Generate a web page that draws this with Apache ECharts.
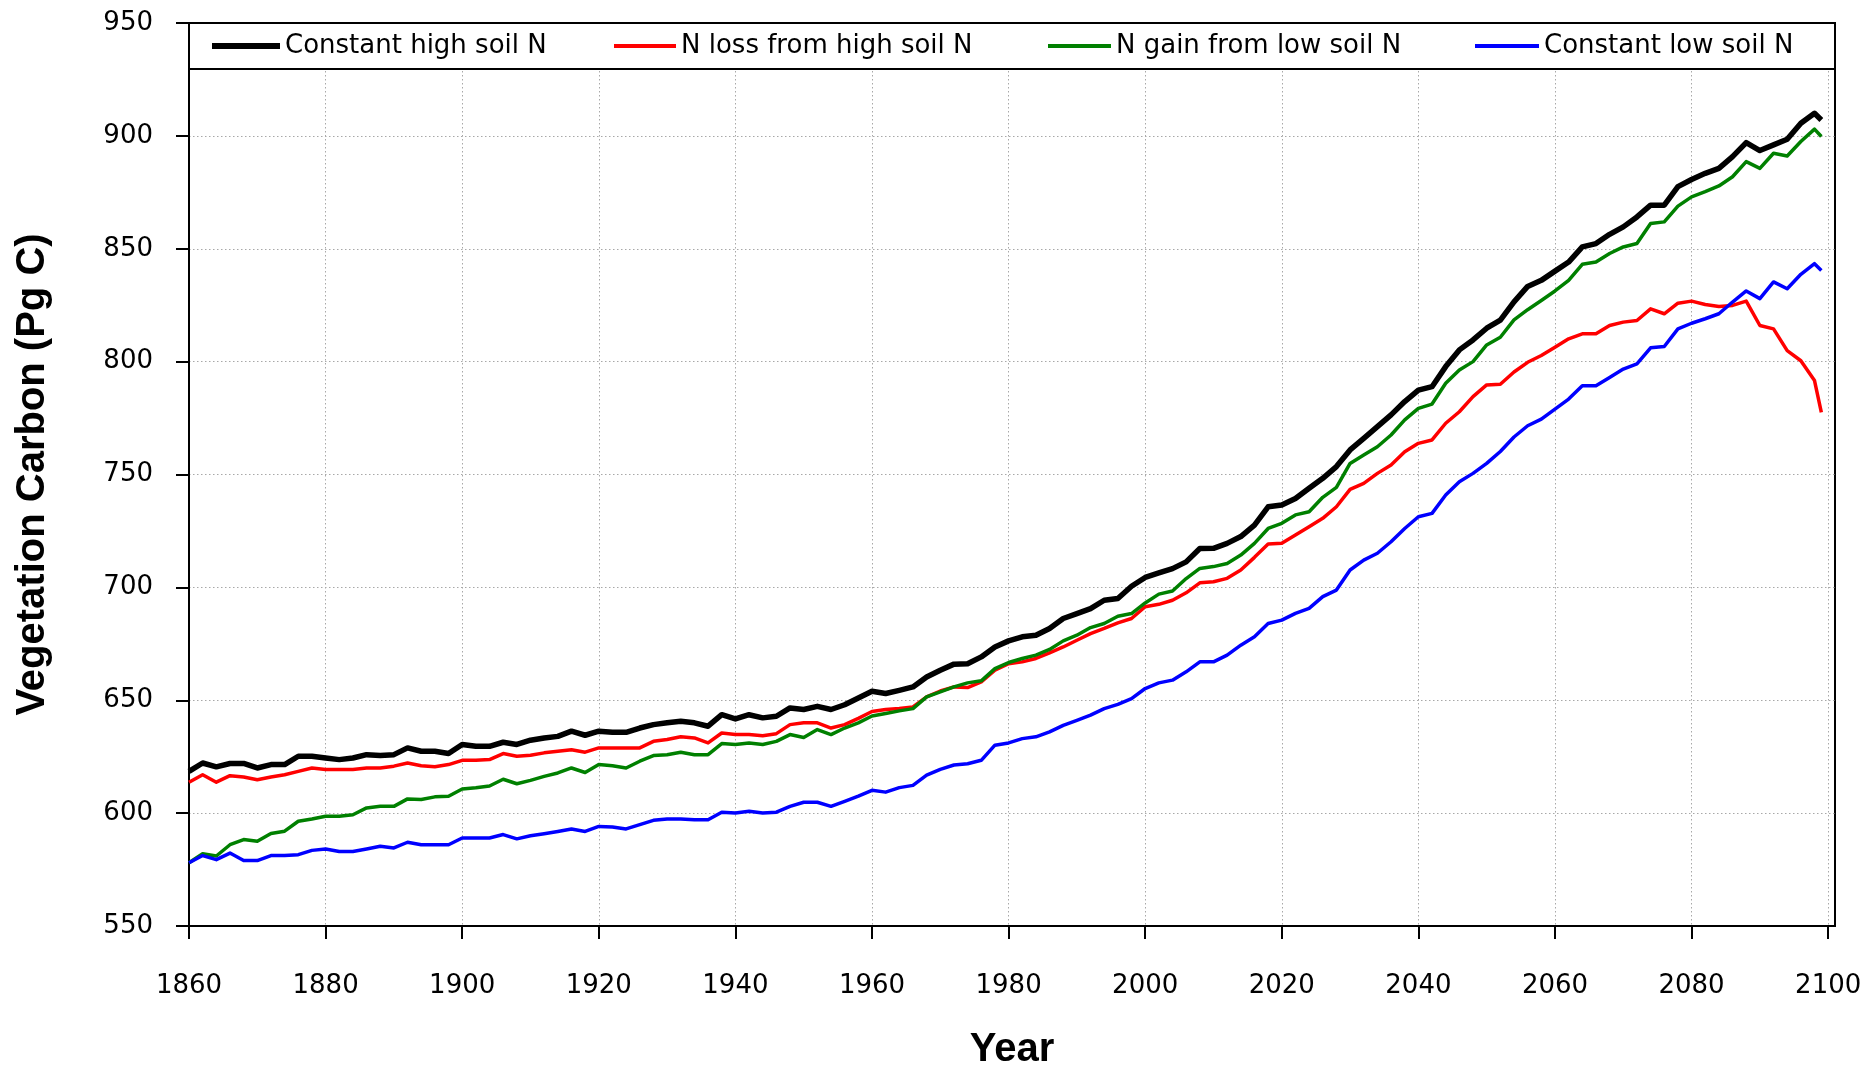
<!DOCTYPE html>
<html>
<head>
<meta charset="utf-8">
<script src="https://cdn.jsdelivr.net/npm/echarts@6/dist/echarts.min.js"></script>
<style>
  html, body { margin: 0; padding: 0; background: #ffffff; }
  #chart { width: 1873px; height: 1069px; }
</style>
</head>
<body>
<div id="chart"></div>
<script>
// Simulation years (two-year steps, last year of the run appended)
const years = [
  1860, 1862, 1864, 1866, 1868, 1870, 1872, 1874, 1876, 1878,
  1880, 1882, 1884, 1886, 1888, 1890, 1892, 1894, 1896, 1898,
  1900, 1902, 1904, 1906, 1908, 1910, 1912, 1914, 1916, 1918,
  1920, 1922, 1924, 1926, 1928, 1930, 1932, 1934, 1936, 1938,
  1940, 1942, 1944, 1946, 1948, 1950, 1952, 1954, 1956, 1958,
  1960, 1962, 1964, 1966, 1968, 1970, 1972, 1974, 1976, 1978,
  1980, 1982, 1984, 1986, 1988, 1990, 1992, 1994, 1996, 1998,
  2000, 2002, 2004, 2006, 2008, 2010, 2012, 2014, 2016, 2018,
  2020, 2022, 2024, 2026, 2028, 2030, 2032, 2034, 2036, 2038,
  2040, 2042, 2044, 2046, 2048, 2050, 2052, 2054, 2056, 2058,
  2060, 2062, 2064, 2066, 2068, 2070, 2072, 2074, 2076, 2078,
  2080, 2082, 2084, 2086, 2088, 2090, 2092, 2094, 2096, 2098,
  2099
];

// Vegetation carbon (Pg C), one array per soil-N scenario
const constantHighN = [
  618.5, 622.2, 620.5, 622.0, 622.0, 620.0, 621.5, 621.5, 625.2, 625.2,
  624.4, 623.7, 624.4, 625.9, 625.5, 625.9, 628.9, 627.4, 627.4, 626.4,
  630.4, 629.6, 629.6, 631.4, 630.4, 632.3, 633.3, 634.0, 636.3, 634.5,
  636.3, 635.8, 635.8, 637.7, 639.2, 640.0, 640.7, 640.0, 638.5, 643.6,
  641.7, 643.6, 642.2, 642.9, 646.6, 645.9, 647.3, 645.9, 648.0, 651.0,
  654.0, 653.0, 654.4, 655.9, 660.3, 663.3, 666.0, 666.2, 669.2, 673.6,
  676.3, 678.1, 678.8, 681.8, 686.2, 688.4, 690.6, 694.3, 695.1, 700.5,
  704.4, 706.4, 708.3, 711.3, 717.2, 717.3, 719.5, 722.5, 727.6, 735.7,
  736.5, 739.4, 743.9, 748.3, 753.5, 760.9, 766.0, 771.2, 776.4, 782.3,
  787.4, 788.9, 797.8, 805.2, 809.6, 814.8, 818.4, 826.5, 833.3, 836.0,
  840.1, 844.1, 850.8, 852.3, 856.4, 859.7, 864.1, 869.3, 869.3, 877.5,
  880.7, 883.4, 885.6, 890.8, 897.0, 893.5, 896.0, 898.5, 905.6, 910.0,
  907.0
];

const lossFromHighN = [
  613.7, 617.0, 613.7, 616.6, 616.0, 614.8, 616.0, 617.0, 618.5, 620.0,
  619.3, 619.3, 619.3, 620.0, 620.0, 620.8, 622.2, 621.0, 620.5, 621.5,
  623.4, 623.4, 623.7, 626.4, 625.2, 625.6, 626.7, 627.4, 628.1, 627.0,
  628.9, 628.9, 628.9, 628.9, 631.8, 632.6, 633.8, 633.3, 631.1, 635.5,
  634.8, 634.8, 634.3, 635.2, 639.2, 640.0, 640.0, 637.7, 639.2, 642.0,
  645.0, 645.9, 646.3, 647.0, 651.5, 654.1, 655.9, 655.6, 658.1, 663.3,
  666.2, 667.0, 668.5, 671.0, 673.6, 676.6, 679.5, 681.8, 684.3, 686.2,
  691.4, 692.5, 694.3, 697.6, 702.0, 702.5, 704.0, 707.7, 713.3, 719.2,
  719.5, 723.2, 726.9, 730.6, 735.7, 743.4, 746.1, 750.5, 754.2, 760.1,
  763.8, 765.3, 772.7, 777.8, 784.5, 789.7, 790.0, 795.4, 799.7, 802.7,
  806.4, 810.1, 812.3, 812.3, 816.0, 817.5, 818.2, 823.4, 821.2, 825.9,
  826.8, 825.3, 824.4, 824.9, 826.8, 816.0, 814.5, 804.9, 800.4, 791.6,
  777.5
];

const gainFromLowN = [
  578.0, 582.0, 581.0, 586.0, 588.3, 587.5, 591.0, 592.0, 596.4, 597.4,
  598.6, 598.6, 599.3, 602.3, 603.0, 603.0, 606.3, 606.0, 607.2, 607.5,
  610.7, 611.2, 612.0, 615.0, 613.0, 614.5, 616.3, 617.8, 620.0, 618.0,
  621.5, 621.0, 620.0, 623.0, 625.5, 625.9, 627.0, 625.9, 625.9, 630.8,
  630.4, 631.1, 630.4, 631.8, 634.8, 633.5, 637.0, 634.8, 637.7, 640.0,
  643.0, 644.1, 645.3, 646.3, 651.5, 653.7, 655.9, 657.7, 658.6, 664.0,
  666.7, 668.5, 670.0, 672.5, 676.3, 678.8, 682.2, 684.0, 687.2, 688.4,
  693.1, 697.0, 698.4, 703.9, 708.4, 709.2, 710.6, 714.3, 719.5, 726.1,
  728.4, 732.1, 733.5, 739.9, 744.3, 754.9, 758.6, 762.3, 767.5, 774.2,
  779.3, 781.2, 790.4, 796.3, 800.0, 807.4, 810.8, 818.5, 823.0, 827.1,
  831.3, 836.0, 843.1, 844.1, 847.9, 850.8, 852.3, 861.2, 861.9, 868.9,
  873.0, 875.3, 877.8, 881.9, 888.6, 885.6, 892.3, 891.1, 897.5, 903.0,
  899.7
];

const constantLowN = [
  578.0, 581.2, 579.4, 582.3, 579.0, 579.0, 581.2, 581.2, 581.6, 583.5,
  584.1, 583.0, 583.0, 584.1, 585.3, 584.6, 587.1, 586.0, 586.0, 586.0,
  589.0, 589.0, 589.0, 590.5, 588.6, 590.0, 590.9, 591.9, 593.0, 591.9,
  594.1, 593.9, 593.0, 594.9, 596.8, 597.4, 597.4, 597.1, 597.1, 600.4,
  600.1, 600.8, 600.1, 600.4, 603.0, 604.8, 604.8, 603.0, 605.2, 607.5,
  610.1, 609.3, 611.3, 612.3, 616.8, 619.4, 621.3, 621.9, 623.4, 630.1,
  631.1, 633.0, 633.8, 636.0, 638.9, 641.1, 643.4, 646.3, 648.2, 650.7,
  655.2, 657.7, 658.9, 662.6, 667.0, 667.0, 670.0, 674.4, 678.1, 684.0,
  685.5, 688.5, 690.7, 695.9, 698.8, 707.7, 712.1, 715.1, 720.2, 726.1,
  731.3, 732.8, 740.9, 746.8, 750.5, 754.9, 760.2, 766.6, 771.6, 774.5,
  779.0, 783.4, 789.3, 789.3, 793.0, 796.7, 799.0, 806.1, 806.7, 814.5,
  817.0, 819.0, 821.2, 826.4, 831.3, 827.9, 835.3, 832.3, 838.7, 843.4,
  840.4
];

const seriesNames = [
  'Constant high soil N',
  'N loss from high soil N',
  'N gain from low soil N',
  'Constant low soil N'
];

const xTickValues = [1860, 1880, 1900, 1920, 1940, 1960, 1980, 2000, 2020, 2040, 2060, 2080, 2100];
const yTickValues = [550, 600, 650, 700, 750, 800, 850, 900, 950];

// ---- layout & styling ----
const W = 1873;
const GRID = { left: 189, right: 38, top: 23, bottom: 143 };
const LEGEND_BOX_H = 46;
const colors = ['#000000', '#ff0000', '#008000', '#0000ff'];
const widths = [5.5, 3.5, 3.5, 3.5];
const legendLeft = [212, 614, 1048, 1475];
const legendIconW = [68, 62, 63, 64];
const legendIconH = [6, 4, 4, 4];
const tickFont = { fontFamily: 'DejaVu Sans', fontSize: 26, color: '#000' };
const titleFont = { fontFamily: 'Liberation Sans', fontWeight: 'bold', fontSize: 40, color: '#000' };
const gridDots = { color: '#a8a8a8', width: 1, type: [1.5, 2.5] };

const valueSets = [constantHighN, lossFromHighN, gainFromLowN, constantLowN];

const chart = echarts.init(document.getElementById('chart'), null, { renderer: 'canvas' });

chart.setOption({
  animation: false,
  backgroundColor: '#ffffff',
  grid: {
    left: GRID.left, right: GRID.right, top: GRID.top, bottom: GRID.bottom,
    show: true, borderColor: '#000', borderWidth: 2,
    outerBoundsMode: 'none'
  },
  xAxis: {
    type: 'value',
    min: 1860, max: 2101, interval: 20,
    name: 'Year', nameLocation: 'middle', nameGap: 104,
    nameTextStyle: titleFont,
    axisLine: { show: true, onZero: false, lineStyle: { color: '#000', width: 2 } },
    axisTick: { show: true, inside: false, length: 13, customValues: xTickValues, lineStyle: { color: '#000', width: 2 } },
    axisLabel: Object.assign({ margin: 47, customValues: xTickValues, formatter: v => String(v) }, tickFont),
    splitLine: { show: true, lineStyle: gridDots }
  },
  yAxis: {
    type: 'value',
    min: 550, max: 950, interval: 50,
    name: 'Vegetation Carbon (Pg C)', nameLocation: 'middle', nameGap: 136,
    nameTextStyle: titleFont,
    axisLine: { show: true, lineStyle: { color: '#000', width: 2 } },
    axisTick: { show: true, inside: false, length: 13, customValues: yTickValues, lineStyle: { color: '#000', width: 2 } },
    axisLabel: Object.assign({ margin: 36, customValues: yTickValues, formatter: v => String(v) }, tickFont),
    splitLine: { show: true, lineStyle: gridDots }
  },
  legend: seriesNames.map((name, i) => ({
    data: [name],
    icon: 'rect',
    left: legendLeft[i], top: 33, padding: 0,
    itemWidth: legendIconW[i], itemHeight: legendIconH[i],
    selectedMode: false,
    z: 10,
    textStyle: tickFont
  })),
  graphic: [{
    type: 'rect',
    silent: true,
    z: 5,
    shape: { x: GRID.left, y: GRID.top, width: W - GRID.left - GRID.right, height: LEGEND_BOX_H },
    style: { fill: '#ffffff', stroke: '#000000', lineWidth: 2 }
  }],
  series: seriesNames.map((name, i) => ({
    name: name,
    type: 'line',
    symbol: 'none',
    showSymbol: false,
    z: 2 + i,
    color: colors[i],
    lineStyle: { color: colors[i], width: widths[i], join: 'round' },
    data: years.map((yr, k) => [yr, valueSets[i][k]])
  }))
});
</script>
</body>
</html>
